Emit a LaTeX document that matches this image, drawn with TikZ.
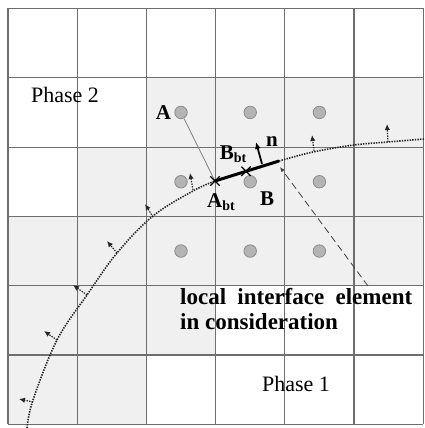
\documentclass[tikz,border=0pt]{standalone}
\usepackage{fontspec}
\setmainfont{Liberation Serif}
\usetikzlibrary{arrows.meta, positioning, shapes.misc, calc}
\definecolor{gridc}{HTML}{6E6E6E}
\definecolor{cellgray}{HTML}{F0F0F0}
\definecolor{dotc}{HTML}{B4B4B4}
\definecolor{dotedge}{HTML}{8C8C8C}
\newcommand{\btsub}{\raisebox{-0.35ex}{\fontsize{14}{14}\selectfont bt}}

\begin{document}
\begin{tikzpicture}[
  x=1pt, y=-1pt,
  font=\fontsize{22}{25}\selectfont,
  probe/.style={circle, fill=dotc, draw=dotedge, line width=0.8pt, minimum size=12.5pt, inner sep=0pt},
  xmark/.style={cross out, draw=black, line width=1.3pt, minimum size=8pt, inner sep=0pt},
  front/.style={dash pattern=on 1.4pt off 1.2pt, line width=1.6pt, black!85},
  normal/.style={dash pattern=on 1.4pt off 1.2pt, line width=1.2pt, black!85,
                 -{Latex[length=6pt,width=5.5pt]}},
  lbl/.style={font=\fontsize{21}{21}\selectfont\bfseries, inner sep=0pt},
]
\useasboundingbox (0,0) rectangle (424,428);
% Shaded cells near the interface
\foreach \c/\r in {2/1,3/1,4/1,5/1,
                   1/2,2/2,3/2,4/2,5/2,
                   0/3,1/3,2/3,3/3,4/3,5/3,
                   0/4,1/4,2/4,
                   0/5,1/5}{
  \pgfmathsetmacro{\cx}{8+69.2*\c}
  \pgfmathsetmacro{\cy}{8.5+69.3*\r}
  \fill[cellgray] (\cx,\cy) rectangle +(69.2,69.3);
}
% Grid
\foreach \i in {0,...,6}{
  \pgfmathsetmacro{\gx}{8+69.2*\i}
  \pgfmathsetmacro{\gy}{8.5+69.3*\i}
  \draw[gridc, line width=1.1pt] (\gx,8.5) -- (\gx,424.3);
  \draw[gridc, line width=1.1pt] (8,\gy) -- (423.2,\gy);
}
% Cell centres
\foreach \r in {1,2,3}{
  \foreach \c in {2,3,4}{
    \pgfmathsetmacro{\px}{8+69.2*(\c+0.5)}
    \pgfmathsetmacro{\py}{8.5+69.3*(\r+0.5)}
    \node[probe] (d\r\c) at (\px,\py) {};
  }
}
% Interface
\coordinate (Abt) at (215,181);
\coordinate (Bbt) at (246,171.3);
\coordinate (Eend) at (279,161);
\draw[front] plot[smooth, tension=0.6] coordinates
  {(27,428) (33,400) (57,340) (87,295) (117,253) (153,216) (193,191) (Abt)};
\draw[front] plot[smooth, tension=0.6] coordinates
  {(Eend) (313,152) (354,145) (388,142) (424,139)};
% Normals along the interface
\foreach \bx/\by/\tx/\ty [count=\i] in {388/142/387/124, 314/151/312/135,
    193/190/190/173, 153/217/145/204, 117/253/107/241,
    87/295/73/285, 57/340/44/331, 33/402/19/399}{
  \coordinate (nb\i) at (\bx,\by);
  \coordinate (nt\i) at (\tx,\ty);
  \draw[normal] (nb\i) -- (nt\i);
}
% Element in consideration
\draw[gray, line width=0.8pt] (d12) -- (Abt);
\draw[line width=3pt] (Abt) -- (Eend);
\node[xmark] (xA) at (Abt) {};
\node[xmark] (xB) at (Bbt) {};
\coordinate (nbase) at (262,164);
\coordinate (ntip) at (256,142);
\draw[line width=1.8pt, -{Latex[length=7pt,width=6pt]}] (nbase) -- (ntip);
\node[lbl, right=10pt of ntip] (nlab) {n};
\node[lbl, left=3pt of d12] (labA) {A};
\node[lbl] (labAbt) at (221,202) {A\btsub};
\node[lbl] (labBbt) at (233,154) {B\btsub};
\node[lbl] (labB) at (267,199) {B};
% Leader to the element
\coordinate (lead) at (368,286);
\coordinate (leadtip) at (280,167);
\draw[black!75, line width=0.8pt, dash pattern=on 7pt off 4pt,
      -{Latex[length=5pt,width=4pt]}] (lead) -- (leadtip);
\node[anchor=north west, inner sep=0pt, align=left,
      font=\fontsize{23}{25}\selectfont\bfseries] (note) at (180,288)
  {\makebox[232pt][s]{local interface element}\\in consideration};
% Phases
\node (ph2) at (65,95) {Phase 2};
\node (ph1) at (296,384) {Phase 1};
\end{tikzpicture}
\end{document}
